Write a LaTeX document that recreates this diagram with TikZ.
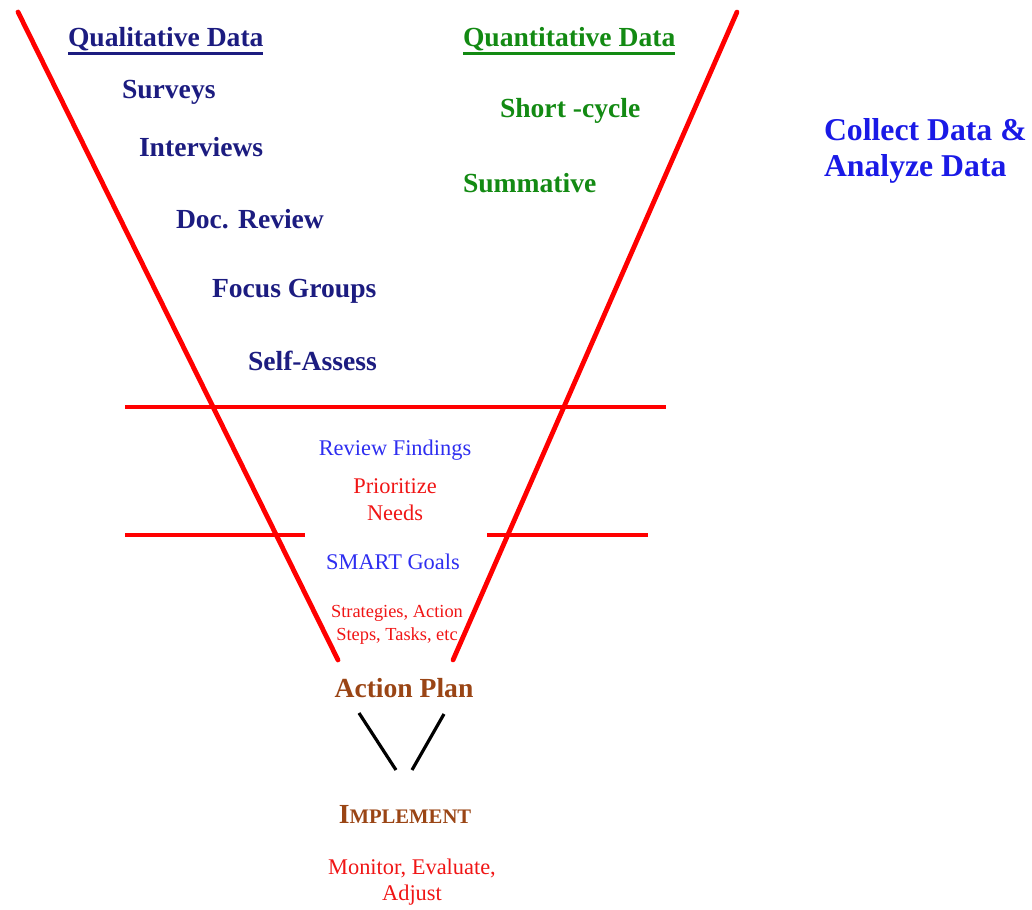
\documentclass[tikz,border=0pt]{standalone}
\usepackage{fontspec}
\setmainfont{Liberation Serif}
\definecolor{qualc}{HTML}{1C1C80}
\definecolor{quanc}{HTML}{138A13}
\definecolor{collc}{HTML}{1A1AE6}
\definecolor{lblue}{HTML}{2E2EF0}
\definecolor{lred}{HTML}{F01515}
\definecolor{brownc}{HTML}{9A4515}
\begin{document}
\begin{tikzpicture}[x=0.75pt,y=-0.75pt,
  every node/.style={inner sep=0pt,outer sep=0pt},
  redline/.style={draw=red,line width=3.6pt,line cap=round},
  hline/.style={draw=red,line width=2.6pt},
  blackline/.style={draw=black,line width=2.4pt},
  qual/.style={font=\bfseries\fontsize{20.7}{22}\selectfont,text=qualc,anchor=west},
  quan/.style={font=\bfseries\fontsize{20.7}{22}\selectfont,text=quanc,anchor=west},
  midtxt/.style={font=\fontsize{16.8}{20}\selectfont,align=center},
  smalltxt/.style={font=\fontsize{13.8}{17}\selectfont,align=center,text=lred},
  browntxt/.style={font=\bfseries\fontsize{20.7}{22}\selectfont,text=brownc}]
\useasboundingbox (0,0) rectangle (1032,910);
% funnel lines
\coordinate (lt) at (18,12);
\coordinate (lb) at (338,660);
\coordinate (rt) at (737,12);
\coordinate (rb) at (453,660);
\draw[redline] (lt) -- (lb);
\draw[redline] (rt) -- (rb);
\coordinate (h1a) at (125,407);
\coordinate (h1b) at (666,407);
\draw[hline] (h1a) -- (h1b);
\coordinate (h2a) at (125,535);
\coordinate (h2b) at (305,535);
\coordinate (h2c) at (487,535);
\coordinate (h2d) at (648,535);
\draw[hline] (h2a) -- (h2b);
\draw[hline] (h2c) -- (h2d);
% black V
\coordinate (b1a) at (359,713);
\coordinate (b1b) at (396,770);
\coordinate (b2a) at (444,714);
\coordinate (b2b) at (412,770);
\draw[blackline] (b1a) -- (b1b);
\draw[blackline] (b2a) -- (b2b);
% qualitative
\node[qual] (qualh) at (68,39) {Qualitative Data};
\draw[qualc,line width=1.9pt] ([yshift=-2pt]qualh.south west) -- ([yshift=-2pt]qualh.south east);
\node[qual] (surveys) at (122,92) {Surveys};
\node[qual] (interv) at (139,147) {Interviews};
\node[qual] (docrev) at (176,219) {Doc. Review};
\node[qual] (focus) at (212,291) {Focus Groups};
\node[qual] (selfa) at (248,361) {Self-Assess};
% quantitative
\node[quan] (quanh) at (463,39) {Quantitative Data};
\draw[quanc,line width=1.9pt] ([yshift=-2pt]quanh.south west) -- ([yshift=-2pt]quanh.south east);
\node[quan] (short) at (500,111) {Short -cycle};
\node[quan] (summ) at (463,183) {Summative};
% collect
\node[font=\bfseries\fontsize{23.8}{26.5}\selectfont,text=collc,align=left,anchor=west] (collect) at (824,151) {Collect Data \&\\Analyze Data};
% middle
\node[midtxt,text=lblue] (review) at (395,450) {Review Findings};
\node[midtxt,text=lred] (prior) at (395,500) {Prioritize\\Needs};
\node[midtxt,text=lblue] (smart) at (393,562) {SMART Goals};
\node[smalltxt] (strat) at (397,625) {Strategies, Action\\Steps, Tasks, etc};
\node[browntxt] (aplan) at (404,688) {Action Plan};
\node[browntxt] (impl) at (405,814) {I{\fontsize{15.5}{18}\selectfont MPLEMENT}};
\node[midtxt,text=lred] (monitor) at (412,882) {Monitor, Evaluate,\\Adjust};
\end{tikzpicture}
\end{document}
